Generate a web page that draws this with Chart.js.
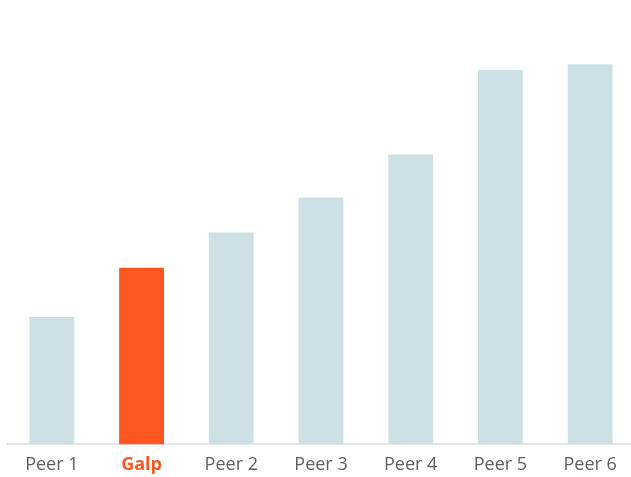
<!DOCTYPE html>
<html>
<head>
<meta charset="utf-8">
<script src="https://cdn.jsdelivr.net/npm/chart.js@4/dist/chart.umd.min.js"></script>
<style>
html,body{margin:0;padding:0;background:#fff;overflow:hidden;width:631px;height:477px;}
#c{display:block;}
</style>
</head>
<body>
<canvas id="c" width="635" height="478"></canvas>
<script>
const categories = ["Peer 1", "Galp", "Peer 2", "Peer 3", "Peer 4", "Peer 5", "Peer 6"];
const values = [30.0, 41.6, 49.9, 58.2, 68.3, 88.2, 89.6];
const highlight = "Galp";

const barColors = categories.map(c => c === highlight ? "#fd5621" : "#cde1e4");

new Chart(document.getElementById("c"), {
  type: "bar",
  data: {
    labels: categories,
    datasets: [{
      data: values,
      backgroundColor: barColors,
      borderWidth: 0,
      barPercentage: 0.5,
      categoryPercentage: 1.0
    }]
  },
  options: {
    responsive: false,
    animation: false,
    layout: { padding: { left: 7, right: 0, top: 20, bottom: 0 } },
    plugins: { legend: { display: false }, tooltip: { enabled: false } },
    scales: {
      y: { display: false, min: 0, max: 100 },
      x: {
        grid: { display: false },
        border: { display: true, color: "#e6e6ea", width: 2 },
        ticks: {
          padding: 2,
          font: (ctx) => ({
            family: "Open Sans",
            size: 18,
            weight: categories[ctx.index] === highlight ? "bold" : "normal"
          }),
          color: (ctx) => categories[ctx.index] === highlight ? "#fd5621" : "#5a5f68"
        }
      }
    }
  }
});
</script>
</body>
</html>
